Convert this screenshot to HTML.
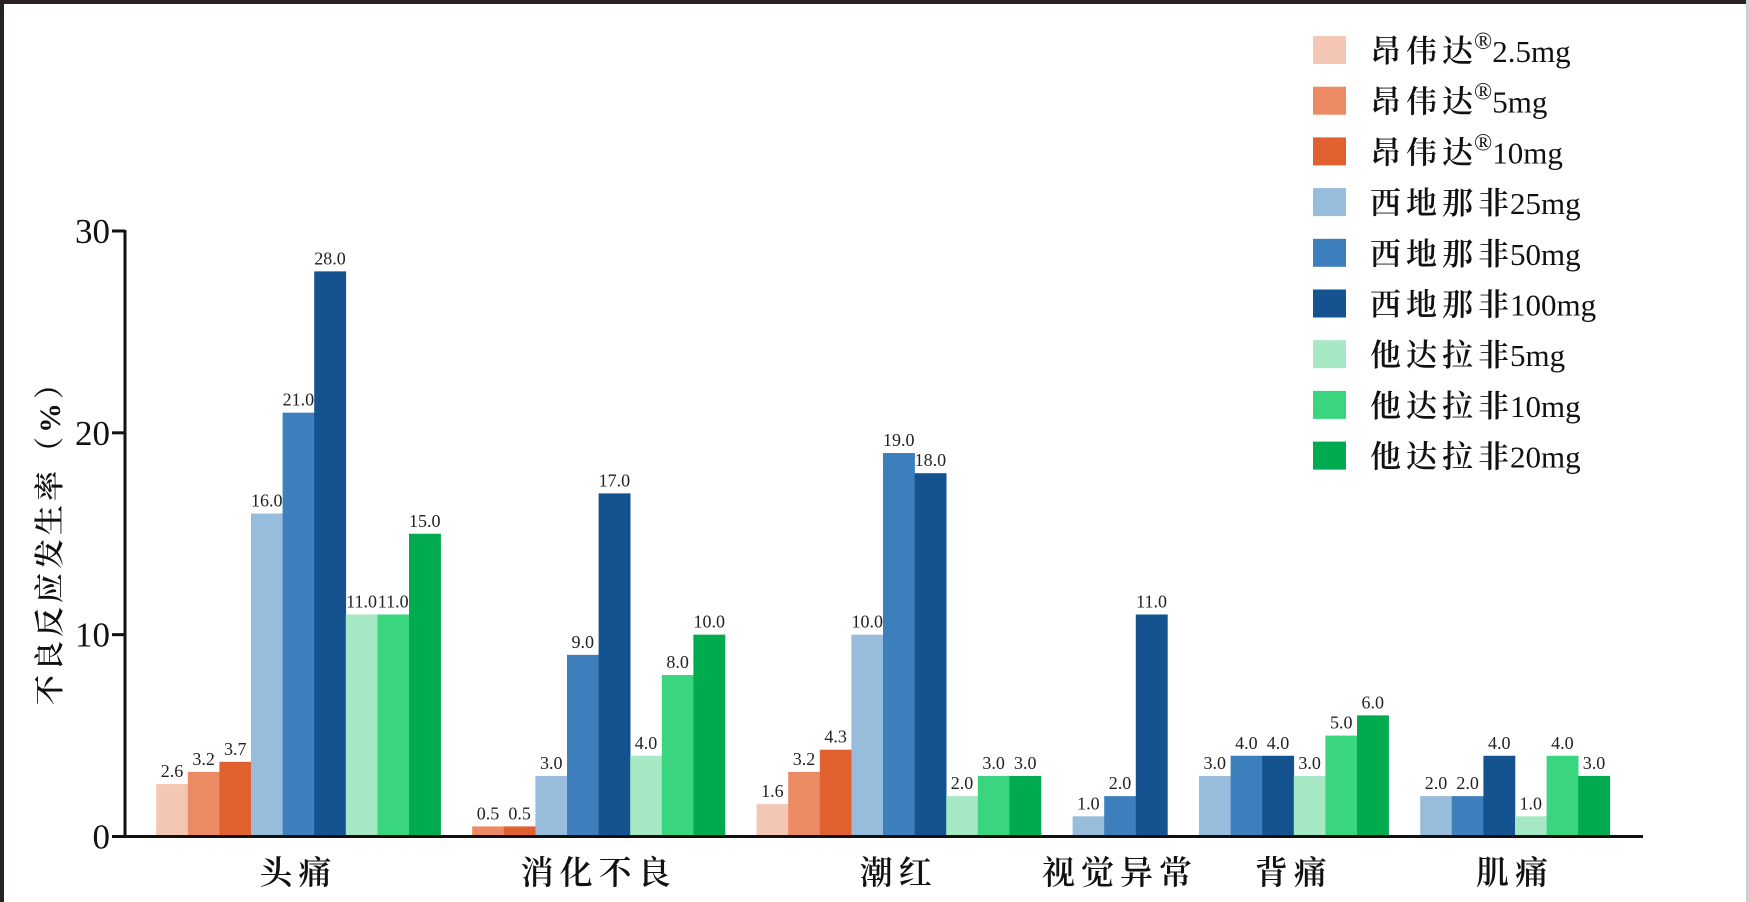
<!DOCTYPE html>
<html><head><meta charset="utf-8"><style>
html,body{margin:0;padding:0;background:#fff;}
body{width:1749px;height:902px;overflow:hidden;position:relative;}
svg{position:absolute;left:0;top:0;}
</style></head><body>
<svg id="chart" width="1749" height="902">
<rect x="0" y="0" width="1749" height="4" fill="#2a2222"/>
<rect x="0" y="0" width="4" height="902" fill="#2a2222"/>
<rect x="1746" y="0" width="3" height="902" fill="#cfcfcf"/>
<g id="plot"></g>
</svg>
<script>
const categories = ["头痛","消化不良","潮红","视觉异常","背痛","肌痛"];
const seriesPrefix = ["昂伟达","昂伟达","昂伟达","西地那非","西地那非","西地那非","他达拉非","他达拉非","他达拉非"];
const seriesReg = [true,true,true,false,false,false,false,false,false];
const seriesDose = ["2.5mg","5mg","10mg","25mg","50mg","100mg","5mg","10mg","20mg"];
const s0 = [2.6, null, 1.6, null, null, null];
const s1 = [3.2, 0.5, 3.2, null, null, null];
const s2 = [3.7, 0.5, 4.3, null, null, null];
const s3 = [16.0, 3.0, 10.0, 1.0, 3.0, 2.0];
const s4 = [21.0, 9.0, 19.0, 2.0, 4.0, 2.0];
const s5 = [28.0, 17.0, 18.0, 11.0, 4.0, 4.0];
const s6 = [11.0, 4.0, 2.0, null, 3.0, 1.0];
const s7 = [11.0, 8.0, 3.0, null, 5.0, 4.0];
const s8 = [15.0, 10.0, 3.0, null, 6.0, 3.0];
const yTicks = [0, 10, 20, 30];
const colors = ["#f4c7b5","#ec8a64","#e0602f","#97bcdc","#3d7fbd","#14538f","#a6e8c4","#3ad67f","#00aa4f"];
const series = [s0,s1,s2,s3,s4,s5,s6,s7,s8];

const NS = "http://www.w3.org/2000/svg";
const plot = document.getElementById("plot");
const axX = 125, y0 = 836.5, yTop = 231, yMax = 30, axEnd = 1643;
const startX = 156.2, slotW = 31.6;
function yScale(v){ return y0 - (v / yMax) * (y0 - yTop); }
function mk(tag, attrs){ const e = document.createElementNS(NS, tag); for (const k in attrs) e.setAttribute(k, attrs[k]); return e; }
const serif = '"Liberation Serif","Noto Serif CJK SC",serif';

let slot = 0;
categories.forEach((cat, ci) => {
  const first = slot;
  series.forEach((s, si) => {
    const v = s[ci];
    if (v === null || v === undefined) return;
    const x = startX + slot * slotW;
    const r = mk("rect", {x: x, y: yScale(v), width: slotW + 0.3, height: y0 - yScale(v), fill: colors[si]});
    
    
    plot.appendChild(r);
    const t = mk("text", {x: x + slotW / 2, y: yScale(v) - 7, "text-anchor": "middle", "font-size": "18", "font-family": serif, fill: "#222"});
    t.textContent = v.toFixed(1);
    
    
    plot.appendChild(t);
    slot++;
  });
  const cx = startX + (first + slot) / 2 * slotW;
  const ct = mk("text", {x: cx, y: 884, "text-anchor": "middle", "font-size": "33", "font-weight": "600", "font-family": serif, fill: "#111", "letter-spacing": "6"});
  ct.textContent = cat;
  
  
  plot.appendChild(ct);
  slot++;
});

const yAxis = mk("line", {x1: axX, y1: yTop - 1, x2: axX, y2: y0 + 1.5, stroke: "#111", "stroke-width": "3"});


plot.appendChild(yAxis);
const xAxis = mk("line", {x1: axX - 1.5, y1: y0, x2: axEnd, y2: y0, stroke: "#111", "stroke-width": "3"});


plot.appendChild(xAxis);
yTicks.forEach(v => {
  const y = yScale(v);
  const tk = mk("line", {x1: axX - 13, y1: y, x2: axX, y2: y, stroke: "#111", "stroke-width": "3"});
  
  
  plot.appendChild(tk);
  const tl = mk("text", {x: axX - 15, y: y + 12, "text-anchor": "end", "font-size": "35", "font-family": serif, fill: "#111"});
  tl.textContent = v;
  
  
  plot.appendChild(tl);
});
const yt = mk("text", {x: 0, y: 0, "text-anchor": "middle", "font-size": "30", "font-weight": "600", "font-family": serif, fill: "#111", transform: "translate(60,535) rotate(-90)", "letter-spacing": "4"});
yt.textContent = "不良反应发生率（%）";


plot.appendChild(yt);

seriesDose.forEach((d, i) => {
  const cy = 50 + i * 50.7;
  const sw = mk("rect", {x: 1313, y: cy - 14, width: 33, height: 28, fill: colors[i]});
  
  
  plot.appendChild(sw);
  const lt = mk("text", {x: 1370, y: cy + 12, "font-size": "31", "font-family": serif, fill: "#111"});
  
  
  const p = mk("tspan", {"letter-spacing": "5", "font-weight": "600"});
  p.textContent = seriesPrefix[i];
  lt.appendChild(p);
  if (seriesReg[i]) {
    const r = mk("tspan", {dy: "-13", "font-size": "24", dx: "-4"});
    r.textContent = "®";
    lt.appendChild(r);
    const dd = mk("tspan", {dy: "13"});
    dd.textContent = d;
    lt.appendChild(dd);
  } else {
    const dd = mk("tspan", {dx: "-4"});
    dd.textContent = d;
    lt.appendChild(dd);
  }
  plot.appendChild(lt);
});
</script>
</body></html>
